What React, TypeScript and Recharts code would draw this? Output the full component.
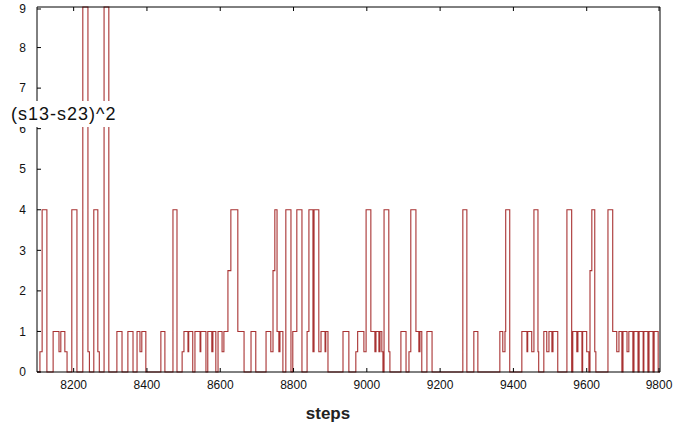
import React from 'react';
import { LineChart, Line, XAxis, YAxis } from 'recharts';

// step at which the value changes, and the value held from there on
const stepsAt = [
  8100, 8108, 8114, 8127, 8144, 8160, 8165, 8176, 8182, 8195, 8209, 8225, 8239, 8243,
  8255, 8266, 8270, 8283, 8296, 8318, 8332, 8348, 8362, 8373, 8381, 8386, 8397, 8438,
  8449, 8471, 8482, 8496, 8501, 8512, 8514, 8525, 8531, 8545, 8547, 8561, 8566, 8577,
  8580, 8588, 8594, 8605, 8610, 8621, 8629, 8648, 8665, 8684, 8697, 8725, 8738, 8744,
  8749, 8755, 8760, 8763, 8771, 8779, 8793, 8798, 8809, 8823, 8837, 8842, 8853, 8856,
  8869, 8875, 8886, 8888, 8894, 8935, 8951, 8970, 8975, 8992, 8998, 9011, 9022, 9025,
  9033, 9036, 9041, 9044, 9047, 9060, 9063, 9093, 9107, 9115, 9120, 9134, 9142, 9145,
  9150, 9164, 9178, 9262, 9273, 9292, 9303, 9363, 9371, 9377, 9379, 9390, 9423, 9437,
  9439, 9450, 9456, 9467, 9469, 9483, 9491, 9497, 9505, 9508, 9521, 9546, 9559, 9562,
  9573, 9576, 9587, 9589, 9600, 9606, 9609, 9614, 9622, 9625, 9658, 9671, 9682, 9688,
  9696, 9699, 9710, 9715, 9726, 9729, 9740, 9743, 9754, 9756, 9767, 9770, 9781, 9784,
  9795, 9800,
];

const sqDiff = [
  0, 0.5, 4, 0, 1, 0.5, 1, 0.5, 0, 4, 0, 9, 0.5, 0,
  4, 0.5, 0, 9, 0, 1, 0, 1, 0, 1, 0.5, 1, 0, 1,
  0, 4, 0, 0.5, 1, 0.5, 1, 0, 1, 0.5, 1, 0, 1, 0.5,
  1, 0, 1, 0.5, 1, 2.5, 4, 1, 0, 1, 0, 1, 0.5, 2.5,
  4, 1, 0.5, 1, 0, 4, 0, 1, 4, 0, 1, 4, 0.5, 4,
  0.5, 1, 0.5, 1, 0, 1, 0, 0.5, 1, 0.5, 4, 1, 0.5, 1,
  0.5, 1, 0.5, 0, 4, 0.5, 0, 1, 0, 0.5, 4, 1, 0.5, 1,
  0, 1, 0, 4, 0, 1, 0, 1, 0.5, 1, 4, 0, 1, 0.5,
  1, 0.5, 4, 0.5, 0, 1, 0.5, 1, 0.5, 1, 0, 4, 0, 1,
  0.5, 1, 0, 1, 0.5, 0, 2.5, 4, 0.5, 0, 4, 1, 0.5, 1,
  0, 1, 0.5, 1, 0, 1, 0, 1, 0, 1, 0, 1, 0, 1,
  0, 0,
];

const xTicks = [8200, 8400, 8600, 8800, 9000, 9200, 9400, 9600, 9800];
const yTicks = [0, 1, 2, 3, 4, 5, 6, 7, 8, 9];

const data = stepsAt.map((s, i) => ({ step: s, v: sqDiff[i] }));

const FONT = '"Liberation Sans", Arial, sans-serif';

function BottomTick({ x, y, payload }: any) {
  return (
    <g>
      <line x1={x} x2={x} y1={y - 8} y2={y - 12} stroke="#000" />
      <text x={x} y={y} dy="0.71em" textAnchor="middle" fontSize={12} fill="#111" fontFamily={FONT}>
        {payload.value}
      </text>
    </g>
  );
}

function LeftTick({ x, y, payload }: any) {
  return (
    <g>
      <line x1={x + 11} x2={x + 15} y1={y} y2={y} stroke="#000" />
      <text x={x} y={y} dy="0.35em" textAnchor="end" fontSize={12} fill="#111" fontFamily={FONT}>
        {payload.value}
      </text>
    </g>
  );
}

function TopTick({ x, y }: any) {
  return <line x1={x} x2={x} y1={y} y2={y + 4} stroke="#000" />;
}

function RightTick({ x, y }: any) {
  return <line x1={x} x2={x - 4} y1={y} y2={y} stroke="#000" />;
}

export default function App() {
  return (
    <div style={{ position: 'absolute', left: 0, top: 0, width: 675, height: 434, background: '#fff' }}>
      <LineChart
        width={675}
        height={434}
        data={data}
        margin={{ top: 6, right: 14, bottom: 7, left: 0 }}
        style={{ fontFamily: FONT }}
      >
        <XAxis
          xAxisId="bottom"
          dataKey="step"
          type="number"
          domain={[8100, 9800]}
          ticks={xTicks}
          height={55}
          tickSize={0}
          tickMargin={8}
          tickLine={false}
          axisLine={{ stroke: '#000' }}
          tick={<BottomTick />}
          label={{
            content: () => (
              <text x={328} y={419} textAnchor="middle" fontSize={17} fontWeight="bold" fill="#222" fontFamily={FONT}>
                steps
              </text>
            ),
          }}
        />
        <XAxis
          xAxisId="top"
          orientation="top"
          dataKey="step"
          type="number"
          domain={[8100, 9800]}
          ticks={xTicks}
          height={1}
          tickSize={0}
          tickMargin={0}
          tickLine={false}
          axisLine={{ stroke: '#000' }}
          tick={<TopTick />}
        />
        <YAxis
          yAxisId="left"
          type="number"
          domain={[0, 9]}
          ticks={yTicks}
          width={37}
          tickSize={0}
          tickMargin={11}
          tickLine={false}
          axisLine={{ stroke: '#000' }}
          tick={<LeftTick />}
        />
        <YAxis
          yAxisId="right"
          orientation="right"
          type="number"
          domain={[0, 9]}
          ticks={yTicks}
          width={1}
          tickSize={0}
          tickMargin={0}
          tickLine={false}
          axisLine={{ stroke: '#000' }}
          tick={<RightTick />}
        />
        <Line
          xAxisId="bottom"
          yAxisId="left"
          type="stepAfter"
          dataKey="v"
          stroke="#a83232"
          strokeWidth={1.1}
          dot={false}
          activeDot={false}
          isAnimationActive={false}
        />
      </LineChart>
      <div
        style={{
          position: 'absolute',
          left: 11,
          top: 101,
          height: 26,
          lineHeight: '26px',
          background: '#fff',
          fontFamily: FONT,
          fontSize: 18,
          letterSpacing: 1,
          color: '#111',
          whiteSpace: 'nowrap',
        }}
      >
        (s13-s23)^2
      </div>
    </div>
  );
}
